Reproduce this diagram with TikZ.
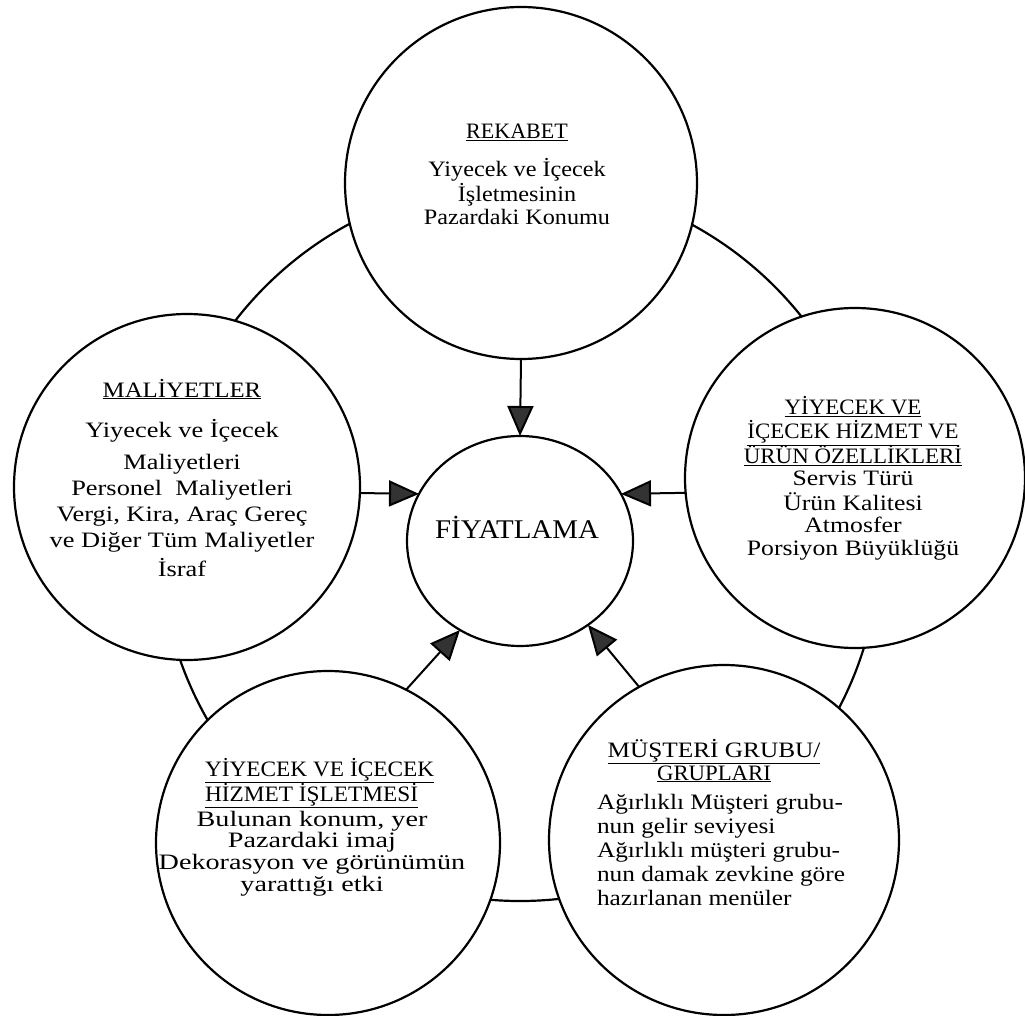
\documentclass[tikz,border=0pt]{standalone}
\usepackage{fontspec}
\setmainfont{Liberation Serif}
\usepackage{graphicx}
\usetikzlibrary{arrows.meta,shapes.geometric}
\newcommand\blk[3]{\scalebox{#1}[1]{\begin{tabular}[t]{@{}#2@{}}#3\end{tabular}}}
\newcommand\hdr[2]{\scalebox{#1}[1]{\underline{#2}}}
\tikzset{
  bubble/.style={circle, draw, line width=2.2pt, fill=white, inner sep=0pt, outer sep=0pt},
  ring/.style={draw, line width=2.2pt},
  txt/.style={inner sep=0pt, outer sep=0pt, anchor=base},
  arr/.style={line width=2pt, -{Triangle[length=30pt,width=26pt,fill=black!80]}}
}
\begin{document}
\begin{tikzpicture}[x=1pt,y=1pt]
\fill[white] (0,0) rectangle (1025,-1016);
\useasboundingbox (0,0) rectangle (1025,-1016);
% outer ring
\draw[ring] (520,-541) circle[radius=360];
% circles
\node[bubble, minimum size=352] (top) at (521,-183) {};
\node[bubble, minimum size=346] (lft) at (187,-487) {};
\node[bubble, minimum size=340] (rgt) at (855,-478) {};
\node[bubble, minimum size=344] (bl) at (328,-843) {};
\node[bubble, minimum size=350] (br) at (724,-840) {};
\node[ellipse, draw, line width=2.2pt, fill=white, inner sep=0pt, outer sep=0pt,
      minimum width=226, minimum height=210] (ctr) at (520,-541) {};
% texts
\node[txt, font=\fontsize{27}{30}\selectfont] (ctrtxt) at (517,-538) {\scalebox{1.07}[1]{FİYATLAMA}};
\node[txt, font=\fontsize{22}{23}\selectfont] (toptxt) at (517,-139)
  {\blk{1.1}{c}{\hdr{0.91}{REKABET}\\[12pt] Yiyecek ve İçecek\\ İşletmesinin\\ Pazardaki Konumu}};
\node[txt, font=\fontsize{22}{26}\selectfont] (lfttxt) at (182,-397)
  {\blk{1.2}{c}{\hdr{0.94}{MALİYETLER}\\[14pt] Yiyecek ve İçecek\\[6pt] Maliyetleri\\ Personel~~Maliyetleri\\ Vergi, Kira, Araç Gereç\\ ve Diğer Tüm Maliyetler\\[3pt] İsraf}};
\node[txt, font=\fontsize{22}{22.3}\selectfont] (rgttxt) at (853,-414)
  {\blk{1.17}{c}{\hdr{0.89}{YİYECEK VE}\\ \hdr{0.89}{İÇECEK HİZMET VE}\\ \hdr{0.89}{ÜRÜN ÖZELLİKLERİ}\\ Servis Türü\\ Ürün Kalitesi\\ Atmosfer\\ Porsiyon Büyüklüğü}};
\node[txt, anchor=base west, font=\fontsize{22}{23}\selectfont] (blhead) at (205,-776)
  {\blk{1.06}{l}{\underline{YİYECEK VE İÇECEK}\\ \underline{HİZMET İŞLETMESİ}}};
\node[txt, font=\fontsize{22}{21.5}\selectfont] (bltxt) at (312,-826)
  {\blk{1.28}{c}{Bulunan konum, yer\\ Pazardaki imaj\\ Dekorasyon ve görünümün\\ yarattığı etki}};
\node[txt, font=\fontsize{22}{23}\selectfont] (brhead) at (714,-757)
  {\blk{1.15}{c}{\underline{MÜŞTERİ GRUBU/}\\ \hdr{0.9}{GRUPLARI}}};
\node[txt, anchor=base west, font=\fontsize{22}{24}\selectfont] (brtxt) at (597,-809)
  {\blk{1.15}{l}{Ağırlıklı Müşteri grubu-\\ nun gelir seviyesi\\ Ağırlıklı müşteri grubu-\\ nun damak zevkine göre\\ hazırlanan menüler}};
% arrows
\draw[arr] (top.south) -- (ctr.north);
\draw[arr] (lft.-2) -- (ctr.155);
\draw[arr] (rgt.185) -- (ctr.25);
\draw[arr] (bl.63) -- (ctr.236);
\draw[arr] (br.119) -- (ctr.-51);
\end{tikzpicture}
\end{document}
